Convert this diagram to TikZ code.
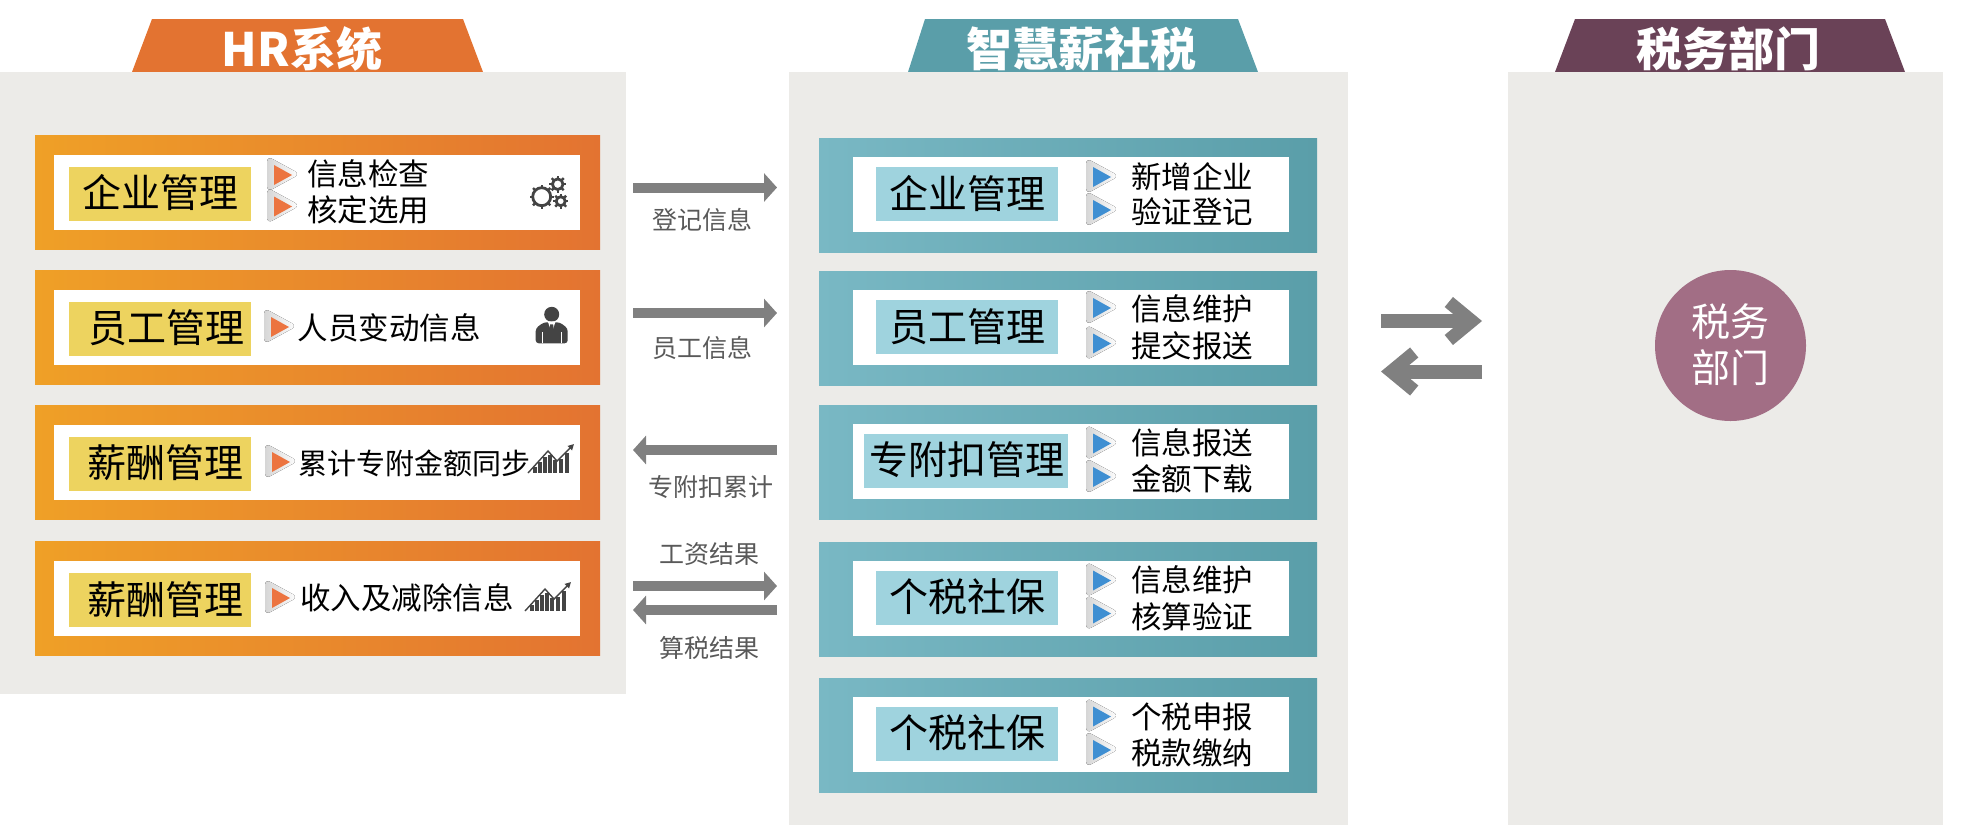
\documentclass[tikz,border=0pt]{standalone}
\usepackage{fontspec}
\setmainfont{Noto Sans CJK SC}
\usetikzlibrary{arrows.meta,calc}
\definecolor{panelgray}{HTML}{ECEBE8}
\definecolor{hrorange}{HTML}{E37331}
\definecolor{hramber}{HTML}{EFA027}
\definecolor{midteal}{HTML}{5A9EA9}
\definecolor{midlight}{HTML}{79B8C4}
\definecolor{taxplum}{HTML}{6A4257}
\definecolor{taxrose}{HTML}{A26E85}
\definecolor{hrlabel}{HTML}{EDD35F}
\definecolor{midlabel}{HTML}{9FD3DE}
\definecolor{playblue}{HTML}{3F8FD2}
\definecolor{playorange}{HTML}{EC7440}
\definecolor{arrowgray}{HTML}{808080}
\definecolor{icongray}{HTML}{444444}
\tikzset{
  box/.style={inner sep=0pt, outer sep=0pt, rectangle},
  panel/.style={box, fill=panelgray},
  hrcard/.style={box, left color=hramber, right color=hrorange, minimum width=565pt, minimum height=114.5pt},
  midcard/.style={box, left color=midlight, right color=midteal, minimum width=498pt, minimum height=114.5pt},
  hrwhite/.style={box, fill=white, minimum width=526pt, minimum height=75pt},
  midwhite/.style={box, fill=white, minimum width=436pt, minimum height=75pt},
  hrtag/.style={box, fill=hrlabel, minimum width=182pt, minimum height=54pt},
  midtag/.style={box, fill=midlabel, minimum width=182pt, minimum height=54pt},
  tagtext/.style={inner sep=0pt, font=\fontsize{39pt}{39pt}\selectfont},
  itemtext/.style={inner sep=0pt, font=\fontsize{30.5pt}{30.5pt}\selectfont},
  flowtext/.style={inner sep=0pt, text=black!65, font=\fontsize{25pt}{25pt}\selectfont},
  headtext/.style={inner sep=0pt, text=white, font=\fontsize{46pt}{46pt}\selectfont\bfseries},
  flow/.style={draw=arrowgray, line width=10pt, -{Triangle[length=13pt,width=28pt]}},
  bigflow/.style={draw=arrowgray, line width=14pt, -{Straight Barb[length=23pt,width=38pt,line width=13pt]}},
  playmark/.pic={
    \fill[left color=black!16, right color=white, rounded corners=6pt] (-16,-19) -- (17,-1) -- (-16,17) -- cycle;
    \fill[#1] (-9,-10) -- (9,0) -- (-9,10) -- cycle;
  },
  gearmark/.pic={
    \foreach \cx/\cy/\r in {0/0/9, 16/-12.5/5.3, 19/4.5/4.5} {
      \draw[icongray, line width=2.8pt] (\cx,\cy) circle (\r);
      \foreach \a in {0,45,...,315}
        \draw[icongray, line width=2.4pt] ($(\cx,\cy)+(\a:\r)$) -- ($(\cx,\cy)+(\a:\r+3.2)$);
    }
  },
  personmark/.pic={
    \fill[icongray] (0,0) circle (7.5);
    \fill[icongray, rounded corners=3pt] (-16,29) -- (-16,14) -- (-8,8) -- (8,8) -- (16,14) -- (16,29) -- cycle;
    \fill[white] (-4,7) -- (4,7) -- (0,18) -- cycle;
    \fill[icongray] (-1.5,10) -- (1.5,10) -- (2,22) -- (0,25) -- (-2,22) -- cycle;
    \draw[white, line width=1pt] (-9.5,18) -- (-9.5,29) (9.5,18) -- (9.5,29);
  },
  chartmark/.pic={
    \foreach \bx/\bh in {7/6, 12/11, 17/16, 22/18, 27/13, 33/14, 39/20}
      \fill[icongray] (\bx-1.7,0) rectangle (\bx+1.7,-\bh);
    \draw[icongray, line width=1.4pt, -{Triangle[length=6pt,width=6pt]}] (0,0) -- (20,-22) -- (29,-12) -- (46,-29);
  }
}

\begin{document}
\begin{tikzpicture}[x=1pt, y=-1pt]
\useasboundingbox (0,0) rectangle (1969,825);

\fill[hrorange] (152,19) -- (463,19) -- (483,72) -- (132,72) -- cycle;
\fill[midteal] (925,19) -- (1238,19) -- (1258,72) -- (908,72) -- cycle;
\fill[taxplum] (1575,19) -- (1885,19) -- (1905,72) -- (1555,72) -- cycle;

\draw
(313,383) node[panel, minimum width=626pt, minimum height=622pt](hrpanel){}
(1068.5,448.5) node[panel, minimum width=559pt, minimum height=753pt](midpanel){}
(1725.5,448.5) node[panel, minimum width=435pt, minimum height=753pt](taxpanel){}

(302,49) node[headtext](hrhead){HR系统}
(1081,49) node[headtext](midhead){智慧薪社税}
(1728,49) node[headtext](taxhead){税务部门}

(1730.5,345.5) node[circle, fill=taxrose, inner sep=0pt, minimum size=151pt](taxdept){}
(1730,322) node[tagtext, text=white](taxdepta){税务}
(1730,368) node[tagtext, text=white](taxdeptb){部门};

\draw
(317.5,192.5) node[hrcard](hrcarda){}
(317.5,327.5) node[hrcard](hrcardb){}
(317.5,462.5) node[hrcard](hrcardc){}
(317.5,598.5) node[hrcard](hrcardd){}
(317,192.5) node[hrwhite](hrwhitea){}
(317,327.5) node[hrwhite](hrwhiteb){}
(317,462.5) node[hrwhite](hrwhitec){}
(317,598.5) node[hrwhite](hrwhited){}
(160,194) node[hrtag](hrtaga){}
(160,329) node[hrtag](hrtagb){}
(160,464) node[hrtag](hrtagc){}
(160,600) node[hrtag](hrtagd){}
(160,193) node[tagtext](hrnamea){企业管理}
(166,328) node[tagtext](hrnameb){员工管理}
(165,463) node[tagtext](hrnamec){薪酬管理}
(165,600) node[tagtext](hrnamed){薪酬管理}
(368,174) node[itemtext](hritema){信息检查}
(368,210) node[itemtext](hritemb){核定选用}
(389,327.5) node[itemtext](hritemc){人员变动信息}
(414,463) node[itemtext, font=\fontsize{29pt}{29pt}\selectfont](hritemd){累计专附金额同步}
(407,598) node[itemtext](hriteme){收入及减除信息};

\draw
(1068,195.5) node[midcard](midcarda){}
(1068,328.5) node[midcard](midcardb){}
(1068,462.5) node[midcard](midcardc){}
(1068,599.5) node[midcard](midcardd){}
(1068,735.5) node[midcard](midcarde){}
(1071,194.5) node[midwhite](midwhitea){}
(1071,327.5) node[midwhite](midwhiteb){}
(1071,461.5) node[midwhite](midwhitec){}
(1071,598.5) node[midwhite](midwhited){}
(1071,734.5) node[midwhite](midwhitee){}
(967,194) node[midtag](midtaga){}
(967,327) node[midtag](midtagb){}
(966,461) node[midtag, minimum width=204pt](midtagc){}
(967,598) node[midtag](midtagd){}
(967,734) node[midtag](midtage){}
(967,193.5) node[tagtext](midnamea){企业管理}
(967,327) node[tagtext](midnameb){员工管理}
(967,460) node[tagtext](midnamec){专附扣管理}
(967,597) node[tagtext](midnamed){个税社保}
(967,733) node[tagtext](midnamee){个税社保}
(1192,177) node[itemtext](miditema){新增企业}
(1192,212) node[itemtext](miditemb){验证登记}
(1192,309) node[itemtext](miditemc){信息维护}
(1192,346) node[itemtext](miditemd){提交报送}
(1192,443) node[itemtext](miditeme){信息报送}
(1192,479) node[itemtext](miditemf){金额下载}
(1192,580) node[itemtext](miditemg){信息维护}
(1192,617) node[itemtext](miditemh){核算验证}
(1192,717) node[itemtext](miditemi){个税申报}
(1192,753) node[itemtext](miditemj){税款缴纳};

\pic at (283,175) {playmark=playorange};
\pic at (283,206.5) {playmark=playorange};
\pic at (280,327) {playmark=playorange};
\pic at (281,462) {playmark=playorange};
\pic at (281,598) {playmark=playorange};
\pic at (1102,177) {playmark=playblue};
\pic at (1102,210) {playmark=playblue};
\pic at (1102,308) {playmark=playblue};
\pic at (1102,343.5) {playmark=playblue};
\pic at (1102,443.5) {playmark=playblue};
\pic at (1102,477) {playmark=playblue};
\pic at (1102,580.5) {playmark=playblue};
\pic at (1102,613.5) {playmark=playblue};
\pic at (1102,716.5) {playmark=playblue};
\pic at (1102,750) {playmark=playblue};

\pic at (541.7,196.7) {gearmark};
\pic at (551.7,314.3) {personmark};
\pic at (528,473) {chartmark};
\pic at (525,611) {chartmark};

\draw
(633,187.5) coordinate(regfrom)
(777,187.5) coordinate(regto)
(633,313) coordinate(empfrom)
(777,313) coordinate(empto)
(777,450) coordinate(deductfrom)
(633,450) coordinate(deductto)
(633,586) coordinate(wagefrom)
(777,586) coordinate(wageto)
(777,610) coordinate(calcfrom)
(633,610) coordinate(calcto)
(1381,321) coordinate(taxfrom)
(1482,321) coordinate(taxto)
(1482,371.5) coordinate(backfrom)
(1381,371.5) coordinate(backto);

\draw[flow] (regfrom) -- (regto);
\draw[flow] (empfrom) -- (empto);
\draw[flow] (deductfrom) -- (deductto);
\draw[flow] (wagefrom) -- (wageto);
\draw[flow] (calcfrom) -- (calcto);
\draw[bigflow] (taxfrom) -- (taxto);
\draw[bigflow] (backfrom) -- (backto);

\draw
(702,220) node[flowtext](reglabel){登记信息}
(702,348) node[flowtext](emplabel){员工信息}
(711,486.5) node[flowtext](deductlabel){专附扣累计}
(709.5,554) node[flowtext](wagelabel){工资结果}
(709.5,648) node[flowtext](calclabel){算税结果};
\end{tikzpicture}
\end{document}
